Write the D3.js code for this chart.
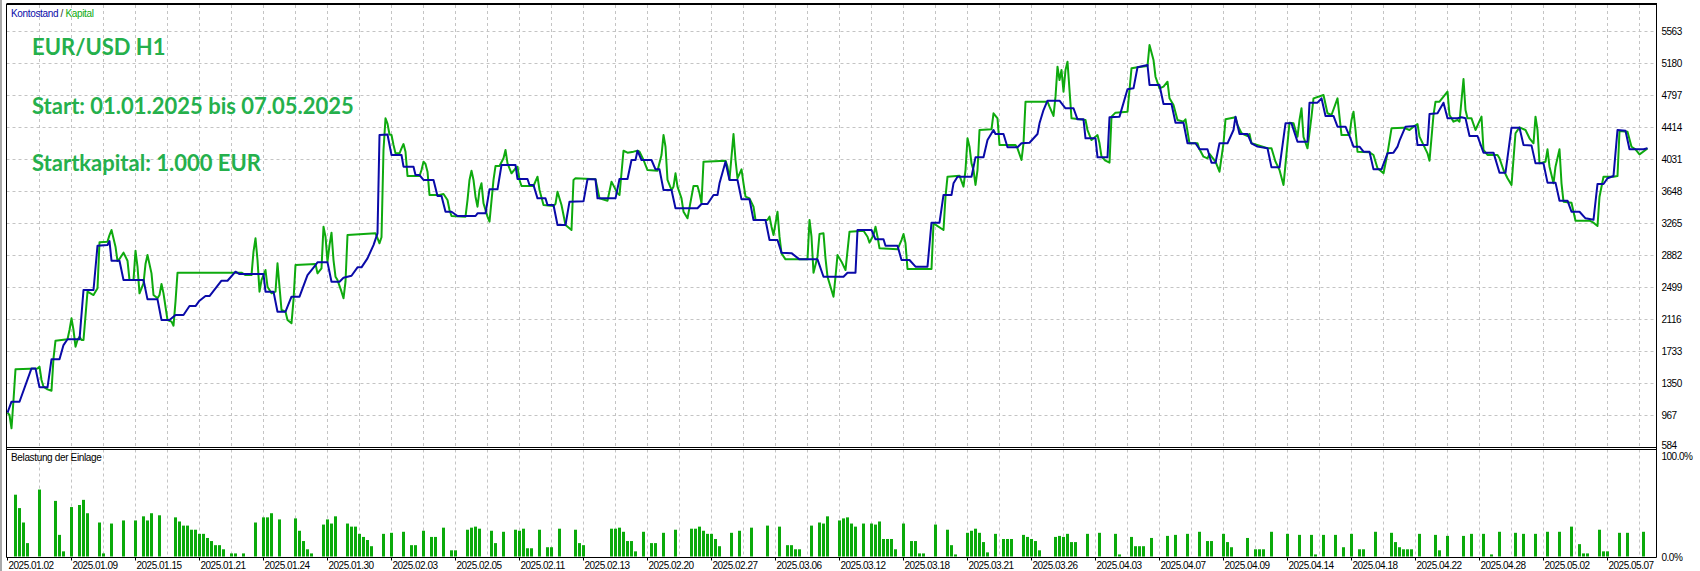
<!DOCTYPE html>
<html><head><meta charset="utf-8">
<script src="https://cdn.jsdelivr.net/npm/d3@7"></script>
<style>body{margin:0;background:#fff;overflow:hidden}</style>
</head><body><svg id="c" width="1700" height="571"></svg>
<script>
// ---------- data ----------
const yTicks = [584, 967, 1350, 1733, 2116, 2499, 2882, 3265, 3648, 4031, 4414, 4797, 5180, 5563];
const loadTicks = ["100.0%", "0.0%"];
const dateLabels = ["2025.01.02","2025.01.09","2025.01.15","2025.01.21","2025.01.24","2025.01.30","2025.02.03","2025.02.05","2025.02.11","2025.02.13","2025.02.20","2025.02.27","2025.03.06","2025.03.12","2025.03.18","2025.03.21","2025.03.26","2025.04.03","2025.04.07","2025.04.09","2025.04.14","2025.04.18","2025.04.22","2025.04.28","2025.05.02","2025.05.07"];
const titleLines = ["EUR/USD H1", "Start: 01.01.2025 bis 07.05.2025", "Startkapital: 1.000 EUR"];

// balance (Kontostand): deal step / value
const balanceStep = [0,2,6,12,14,16,20,22,26,28,30,36,38,43,45,50,51,52,56,58,68,70,75,77,81,84,88,91,94,96,99,101,107,110,114,116,128,129,133,135,139,142,146,150,154,155,160,162,166,168,172,175,177,180,183,185,186,190,192,197,198,203,204,206,208,213,215,217,219,222,225,234,235,239,241,245,247,254,255,260,261,263,265,269,270,273,275,279,281,288,290,294,295,304,306,310,312,314,315,317,322,324,326,328,332,334,345,347,350,353,355,356,359,361,365,367,371,373,379,381,385,387,392,396,405,408,418,420,424,425,432,434,438,439,445,447,451,454,460,462,466,468,472,473,475,482,484,488,490,493,494,498,500,505,507,511,515,516,518,520,526,529,533,535,538,539,544,545,550,551,556,560,563,565,570,571,576,578,582,584,588,590,594,596,600,602,604,606,610,613,614,616,620,622,625,630,632,636,639,642,645,650,651,655,657,659,663,665,669,671,673,676,678,681,683,687,690,693,695,696,699,704,705,710,711,715,718,720,725,727,729,731,735,738,743,746,749,752,756,758,762,764,768,770,774,776,780,782,786,789,793,795,798,800,803,805,809,811,818,820];
const balanceValue = [1000,1132,1132,1531,1531,1304,1304,1639,1639,1810,1879,1879,2469,2469,2999,3007,3055,2820,2820,2588,2588,2357,2357,2110,2110,2170,2170,2277,2277,2341,2397,2397,2580,2580,2688,2660,2660,2449,2449,2209,2209,2389,2389,2648,2768,2800,2800,2568,2568,2616,2640,2740,2740,2848,3007,3147,4324,4330,4085,4085,3945,3945,3845,3845,3786,3786,3594,3594,3406,3406,3355,3355,3387,3387,3674,3674,3965,3965,3798,3798,3726,3726,3566,3566,3486,3486,3247,3247,3526,3530,3794,3794,3566,3566,3798,3798,4025,4025,4136,4025,4025,3913,3913,3666,3666,3447,3447,3498,3498,3606,3606,3746,4005,3786,3786,3554,3554,3307,3307,3067,3067,2916,2910,2836,2836,2628,2628,2676,2676,3187,3187,3076,3076,2999,2999,2828,2828,2748,2748,3275,3275,3606,3606,3746,3825,3825,4057,4057,4264,4384,4336,4336,4177,4177,4225,4232,4336,4464,4623,4735,4735,4644,4644,4512,4512,4285,4285,4057,4057,4536,4544,4871,4883,5134,5162,4923,4923,4695,4695,4471,4471,4225,4225,4153,4153,3993,3993,4225,4225,4384,4544,4336,4336,4225,4185,4165,3937,3937,4464,4464,4244,4244,4711,4711,4763,4552,4552,4424,4424,4312,4185,4185,4124,4124,3913,3913,4105,4113,4185,4256,4424,4432,4204,4204,4576,4584,4711,4524,4524,4536,4524,4312,4312,4113,4113,3873,3873,4412,4412,4204,4200,3985,3985,3754,3754,3538,3538,3406,3406,3327,3310,3738,3738,3806,3834,4384,4376,4153,4153,4165];

// equity (Kapital): deal step / value
const equityStep = [0,1,2,3,4,15,16,17,18,20,22,23,24,30,31,32,33,34,35,36,37,38,40,43,45,46,50,51,52,54,55,56,58,60,61,63,64,65,66,68,69,70,72,73,75,76,77,78,80,82,83,84,85,117,119,122,123,124,125,126,127,128,129,130,132,134,135,136,137,139,140,142,143,144,154,155,157,158,159,160,161,162,163,164,165,167,168,169,170,184,185,186,187,188,189,190,191,192,193,194,196,197,198,199,200,206,207,208,209,210,211,216,218,220,221,222,229,230,231,232,233,234,235,236,237,238,240,241,243,244,246,248,249,250,252,254,255,256,257,263,265,266,268,273,274,275,277,279,282,283,284,294,296,300,302,305,306,308,310,313,315,316,318,320,325,327,328,329,330,332,333,334,335,337,338,340,343,345,346,347,348,359,360,361,362,363,364,365,367,368,369,371,373,374,380,381,382,383,385,386,387,389,400,401,402,403,405,406,408,409,410,413,414,415,417,419,421,428,430,431,433,434,435,436,445,447,448,449,450,462,463,468,469,470,476,478,479,480,481,482,483,484,485,486,492,493,495,496,504,505,507,508,509,520,521,523,524,525,526,527,528,529,530,531,532,539,540,542,545,546,547,549,551,552,554,560,561,562,565,570,571,573,574,576,578,580,581,583,585,588,589,591,595,596,598,600,601,604,606,608,609,614,615,617,620,621,622,630,632,634,636,638,640,641,643,645,646,647,648,650,652,653,658,660,662,665,666,667,671,672,673,674,675,681,683,685,688,690,692,698,701,703,705,706,710,711,713,714,716,720,721,723,725,726,728,729,730,732,734,737,738,740,745,746,748,750,752,754,756,759,761,763,764,765,766,769,770,771,773,774,776,777,778,782,784,791,793,795,796,798,803,805,806,810,812,814,816,819,820];
const equityValue = [1000,973,814,1152,1520,1530,1551,1392,1312,1280,1264,1652,1862,1879,1990,2130,1990,1790,1870,1910,1871,1871,2449,2409,2489,3040,3048,3127,3187,2987,2816,2840,2916,2820,2588,2588,2939,2748,2429,2549,2780,2888,2668,2409,2370,2409,2541,2429,2110,2090,2042,2329,2676,2676,2648,2648,2928,3088,2828,2449,2588,2648,2708,2508,2429,2449,2788,2508,2230,2209,2110,2071,2349,2768,2780,2668,2728,3227,3107,2808,3007,3155,2828,2628,2588,2449,2370,2568,3127,3147,3091,3028,3100,4145,4524,4460,4330,4324,4204,4105,4105,4165,4216,4124,3833,3833,3905,4005,3977,3885,3606,3606,3618,3546,3427,3355,3347,3546,3786,3897,3786,3586,3466,3666,3746,3507,3347,3287,3786,3953,3953,4045,4145,3985,3866,3926,3945,3786,3714,3714,3825,3666,3486,3474,3500,3646,3486,3247,3187,3786,3806,3794,3566,3538,3766,3626,3606,4136,4113,4125,4136,4125,4025,3905,3897,4085,4324,4184,3786,3666,3706,3866,3706,3566,3406,3327,3714,3714,3626,3507,4005,4017,3945,3794,4065,4336,4025,3806,3913,3746,3586,3566,3466,3307,3307,3347,3227,3127,3406,3107,2908,2836,2836,3307,3107,2676,2868,3139,3147,2848,2628,2389,2628,2888,2808,2708,3167,3179,3107,3036,3127,3227,3107,2968,2956,3067,3139,3028,2720,2720,3267,3187,3586,3825,3837,3706,3905,4285,4184,3985,3905,3726,3905,4384,4392,4584,4524,4204,4204,4165,4025,4224,4723,4723,4663,4552,4783,5142,4982,5102,4843,5102,5202,4863,4524,4504,4384,4264,4324,4225,4065,4017,3993,4544,4592,4603,4863,5122,5134,5150,5401,5222,5022,4883,4903,4962,4763,4683,4504,4484,4512,4225,4225,4153,4065,4045,4097,4005,3885,4225,4512,4536,4444,4345,4312,4336,4225,4165,4165,4005,3905,3726,4225,4471,4464,4304,4504,4644,4300,4165,4544,4763,4803,4584,4564,4763,4544,4324,4324,4504,4603,4384,4124,4117,4085,3926,3866,4105,4404,4412,4384,4424,4456,4304,4105,4017,4564,4723,4723,4843,4564,4484,4504,4484,4994,4623,4524,4524,4384,4544,4145,4085,4085,4045,3905,3806,3726,4345,4416,4384,4285,4225,4544,4384,3985,4005,4153,3945,3746,3945,4153,3746,3526,3514,3299,3299,3275,3235,3586,3825,3825,3834,4372,4364,4184,4153,4093,4145,4165];

// margin load (Belastung der Einlage, %): deal step / value
const loadStep = [4,6,8,10,16,24,26,28,32,36,38,40,46,48,52,58,64,68,70,72,76,84,86,88,90,92,94,96,98,100,102,104,106,108,112,114,118,124,128,130,132,136,144,146,148,150,152,158,160,162,164,170,172,174,176,178,180,182,188,192,198,202,204,208,212,214,218,222,224,230,232,234,236,242,244,248,254,256,258,260,262,266,270,272,276,284,286,288,302,304,306,308,310,312,314,318,322,324,328,334,342,344,346,348,350,352,354,356,362,366,372,380,386,390,392,394,396,402,406,408,410,416,418,420,422,424,428,432,434,436,438,440,442,444,448,452,454,456,458,464,470,472,474,480,482,484,486,488,490,494,498,500,502,508,510,512,514,516,524,526,528,530,532,534,540,546,554,556,562,564,566,568,572,580,584,590,596,600,602,608,610,612,620,624,626,628,632,640,646,652,654,658,664,668,672,676,678,684,692,694,696,698,700,702,706,714,716,720,728,732,738,742,746,754,758,764,770,776,782,786,788,790,796,798,800,806,810,818];
const loadValue = [60,47,33,13,65,54,21,5,48,50,55,42,33,3,32,35,35,39,35,42,40,38,34,30,30,26,26,22,22,18,15,11,11,7,3,3,3,33,38,38,42,36,37,25,15,7,3,31,36,32,39,32,29,29,22,19,16,10,22,23,24,11,11,25,19,19,28,6,6,26,28,29,27,25,13,24,26,25,27,8,8,26,9,9,27,26,13,11,27,27,28,24,15,15,5,24,13,13,23,26,27,27,29,25,22,22,17,10,23,25,28,30,29,11,11,7,7,30,33,32,39,35,37,38,32,29,32,32,31,34,17,17,17,7,32,15,15,3,3,31,26,11,2,23,25,27,23,14,4,22,17,17,17,21,19,17,15,6,19,20,19,22,14,14,22,23,22,2,19,10,10,10,18,20,21,22,24,15,15,22,14,9,18,7,7,7,24,22,21,21,2,21,21,9,22,7,7,24,23,14,9,7,7,7,22,21,6,20,20,22,22,2,24,23,22,22,24,24,29,12,3,3,26,5,5,23,23,24];

// ---------- drawing ----------
const svg = d3.select("#c");
const FONT = "'Liberation Sans', Arial, sans-serif";
const L = 6.5, R = 1656.5;
const mainTop = 4, mainBottom = 447.5, subTop = 449.5, subBottom = 557.5;

const x = d3.scaleLinear().domain([0, 820]).range([7.5, 1647.5]);
const y = d3.scaleLinear().domain([584, 5563]).range([447.5, 31.5]);
const yLoad = d3.scaleLinear().domain([0, 100]).range([556.5, 453.5]);

svg.append("rect").attr("width", 1700).attr("height", 571).attr("fill", "#fff");
svg.append("line").attr("x1", 1).attr("x2", 1).attr("y1", 0).attr("y2", 571)
  .attr("stroke", "#a8a8a8").attr("stroke-width", 2);

// grid
const gridSteps = d3.range(16, 817, 16);
const grid = svg.append("g").attr("stroke", "#c4c4c4").attr("stroke-width", 1)
  .attr("stroke-dasharray", "3,3");
grid.selectAll(".vm").data(gridSteps).join("line")
  .attr("x1", d => x(d)).attr("x2", d => x(d)).attr("y1", mainTop + 1).attr("y2", mainBottom);
grid.selectAll(".vs").data(gridSteps).join("line")
  .attr("x1", d => x(d)).attr("x2", d => x(d)).attr("y1", subTop).attr("y2", subBottom);
grid.selectAll(".h").data(yTicks.slice(1)).join("line")
  .attr("x1", L).attr("x2", R).attr("y1", d => y(d)).attr("y2", d => y(d));

// frames
const frame = svg.append("g").attr("stroke", "#000").attr("fill", "none").attr("stroke-width", 1);
frame.append("line").attr("x1", L).attr("x2", R).attr("y1", mainTop).attr("y2", mainTop).attr("stroke-width", 2);
frame.append("line").attr("x1", L).attr("x2", R).attr("y1", mainBottom).attr("y2", mainBottom);
frame.append("line").attr("x1", L).attr("x2", R).attr("y1", subTop).attr("y2", subTop);
frame.append("line").attr("x1", L).attr("x2", R).attr("y1", subBottom).attr("y2", subBottom);
frame.append("line").attr("x1", L).attr("x2", L).attr("y1", mainTop).attr("y2", subBottom);
frame.append("line").attr("x1", R).attr("x2", R).attr("y1", mainTop - 1).attr("y2", subBottom);

// clip for main lines
svg.append("clipPath").attr("id", "clipMain").append("rect")
  .attr("x", L + 0.5).attr("y", mainTop + 1).attr("width", R - L - 1).attr("height", mainBottom - mainTop - 1.5);

const line = d3.line().x(d => x(d[0])).y(d => y(d[1]));
const equity = equityStep.map((s, i) => [s, equityValue[i]]);
const balance = balanceStep.map((s, i) => [s, balanceValue[i]]);
const lines = svg.append("g").attr("clip-path", "url(#clipMain)").attr("fill", "none")
  .attr("stroke-width", 2).attr("stroke-linejoin", "round");
lines.append("path").attr("d", line(equity)).attr("stroke", "#0eaa0e");
lines.append("path").attr("d", line(balance)).attr("stroke", "#0a0aa8");

// load bars
svg.append("g").attr("fill", "#0aaa0a").selectAll("rect")
  .data(loadStep.map((s, i) => [s, loadValue[i]])).join("rect")
  .attr("x", d => x(d[0]) - 1.5).attr("width", 3)
  .attr("y", d => yLoad(d[1])).attr("height", d => yLoad(0) - yLoad(d[1]));

// y labels
svg.append("g").attr("font-family", FONT).attr("font-size", 10).attr("letter-spacing", -0.5).attr("fill", "#000")
  .selectAll("text").data(yTicks).join("text")
  .attr("x", R + 5).attr("y", d => Math.min(y(d) + 3.5, 449)).text(d => d);
svg.append("text").attr("font-family", FONT).attr("font-size", 10).attr("letter-spacing", -0.5)
  .attr("x", R + 5).attr("y", yLoad(100) + 6.5).text(loadTicks[0]);
svg.append("text").attr("font-family", FONT).attr("font-size", 10).attr("letter-spacing", -0.5)
  .attr("x", R + 5).attr("y", yLoad(0) + 4).text(loadTicks[1]);

// date labels
const dates = svg.append("g").attr("font-family", FONT).attr("font-size", 10).attr("letter-spacing", -0.5);
dates.selectAll("line").data(dateLabels).join("line")
  .attr("x1", (d, i) => x(i * 32)).attr("x2", (d, i) => x(i * 32))
  .attr("y1", subBottom).attr("y2", subBottom + 3).attr("stroke", "#000");
dates.selectAll("text").data(dateLabels).join("text")
  .attr("x", (d, i) => x(i * 32) + 1).attr("y", 568.5).text(d => d);

// legend texts
const leg = svg.append("text").attr("font-family", FONT).attr("font-size", 10).attr("letter-spacing", -0.35)
  .attr("x", 11).attr("y", 16.5);
leg.append("tspan").attr("fill", "#0a0aa8").text("Kontostand");
leg.append("tspan").attr("fill", "#333").text(" / ");
leg.append("tspan").attr("fill", "#0eaa0e").text("Kapital");
svg.append("text").attr("font-family", FONT).attr("font-size", 10).attr("letter-spacing", -0.35)
  .attr("x", 11).attr("y", 461).attr("fill", "#000").text("Belastung der Einlage");

// title block
svg.append("g").attr("font-family", "Lato, 'Open Sans', sans-serif").attr("font-weight", "bold")
  .attr("font-size", 22).attr("fill", "#25b04c")
  .selectAll("text").data(titleLines).join("text")
  .attr("x", 32).attr("y", (d, i) => [54.5, 114, 171][i]).text(d => d);
</script></body></html>
